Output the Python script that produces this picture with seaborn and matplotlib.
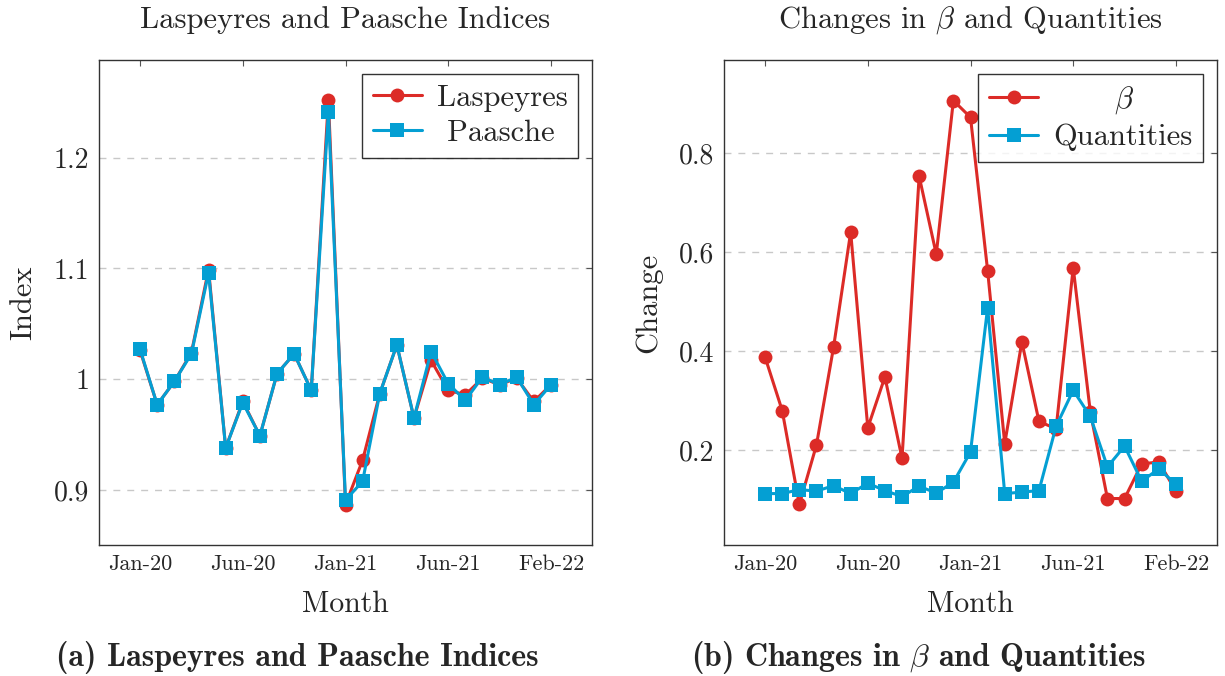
import pandas as pd
import seaborn as sns
import matplotlib.pyplot as plt
import numpy as np

# Data (25 monthly observations)
months = list(range(25))
tick_pos = [0, 6, 12, 18, 24]
tick_labels = ['Jan-20', 'Jun-20', 'Jan-21', 'Jun-21', 'Feb-22']

laspeyres = [1.026, 0.977, 0.998, 1.024, 1.099, 0.938, 0.980, 0.949, 1.005, 1.023,
             0.990, 1.252, 0.887, 0.927, 0.987, 1.031, 0.965, 1.017, 0.990, 0.986,
             1.001, 0.995, 1.001, 0.980, 0.995]
paasche = [1.027, 0.977, 0.998, 1.023, 1.096, 0.938, 0.979, 0.949, 1.005, 1.023,
           0.990, 1.241, 0.891, 0.908, 0.987, 1.031, 0.965, 1.025, 0.996, 0.981,
           1.002, 0.995, 1.002, 0.977, 0.995]

beta = [0.388, 0.280, 0.090, 0.210, 0.408, 0.641, 0.245, 0.348, 0.183, 0.754,
        0.596, 0.907, 0.873, 0.563, 0.213, 0.419, 0.258, 0.243, 0.569, 0.277,
        0.102, 0.102, 0.172, 0.176, 0.117]
quantities = [0.112, 0.112, 0.120, 0.117, 0.128, 0.112, 0.133, 0.118, 0.106, 0.127,
              0.113, 0.135, 0.196, 0.488, 0.112, 0.115, 0.118, 0.248, 0.321, 0.268,
              0.166, 0.208, 0.137, 0.162, 0.131]

red = '#dc2b27'
blue = '#049fd3'

sns.set_style('white')
plt.rcParams['font.family'] = ['cmr10', 'DejaVu Serif']
plt.rcParams['mathtext.fontset'] = 'cm'
plt.rcParams['axes.unicode_minus'] = False

fig = plt.figure(figsize=(12.25, 6.76), dpi=100)
ax1 = fig.add_axes([99 / 1225, 131 / 676, 493 / 1225, 485 / 676])
ax2 = fig.add_axes([724 / 1225, 131 / 676, 493 / 1225, 485 / 676])


def draw(ax, s1, s2, l1, l2, yticks, ylabels, ylim, title, ylabel):
    sns.lineplot(x=months, y=s1, ax=ax, color=red, marker='o', markersize=10,
                 markeredgewidth=0, linewidth=2.2, label=l1)
    sns.lineplot(x=months, y=s2, ax=ax, color=blue, marker='s', markersize=9.5,
                 markeredgewidth=0, linewidth=2.2, label=l2)
    ax.set_xlim(-2.4, 26.4)
    ax.set_ylim(*ylim)
    ax.set_xticks(tick_pos)
    ax.set_xticklabels(tick_labels, fontsize=16)
    ax.set_yticks(yticks)
    ax.set_yticklabels(ylabels, fontsize=20)
    ax.yaxis.grid(True, linestyle=(0, (5, 5)), color='#c8c8c8', linewidth=1)
    ax.tick_params(direction='in', top=True, right=True, length=4, width=0.8,
                   color='#555555', pad=7)
    for sp in ax.spines.values():
        sp.set_color('#333333')
        sp.set_linewidth(1)
    ax.set_title(title, fontsize=22, pad=23)
    ax.set_xlabel('Month', fontsize=21.5, labelpad=12)
    ax.set_ylabel(ylabel, fontsize=22, labelpad=12)
    leg = ax.legend(loc='upper right', fontsize=22, frameon=True, fancybox=False,
                    edgecolor='black', borderpad=0.35, handlelength=1.6,
                    handletextpad=0.5, labelspacing=0.25, borderaxespad=0.45)
    leg.get_frame().set_linewidth(1)


draw(ax1, laspeyres, paasche, 'Laspeyres', ' Paasche',
     [0.9, 1.0, 1.1, 1.2], ['0.9', '1', '1.1', '1.2'], (0.8505, 1.288),
     'Laspeyres and Paasche Indices', 'Index')
draw(ax2, beta, quantities, r'      $\beta$', 'Quantities',
     [0.2, 0.4, 0.6, 0.8], ['0.2', '0.4', '0.6', '0.8'], (0.008, 0.989),
     r'Changes in $\beta$ and Quantities', 'Change')

fig.text(297 / 1225, 1 - 657 / 676, '(a) Laspeyres and Paasche Indices',
         ha='center', va='center', fontsize=23, family=['cmb10', 'DejaVu Serif'])
fig.text(918 / 1225, 1 - 657 / 676, r'(b) Changes in $\beta$ and Quantities',
         ha='center', va='center', fontsize=23, family=['cmb10', 'DejaVu Serif'])

fig.savefig('out.png', dpi=100)
